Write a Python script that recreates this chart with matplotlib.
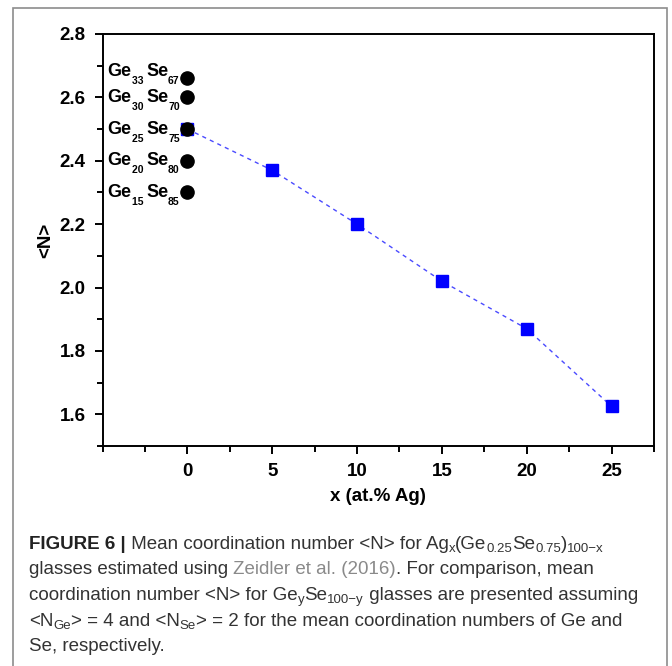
import matplotlib
matplotlib.use("Agg")
import matplotlib.pyplot as plt
from matplotlib.patches import Rectangle
from matplotlib.ticker import MultipleLocator

# Ag_x(Ge0.25Se0.75)100-x series
ag_x = [0, 5, 10, 15, 20, 25]
ag_n = [2.50, 2.37, 2.20, 2.02, 1.87, 1.625]

# GeySe100-y reference points (all at x = 0)
gese_y = [33, 30, 25, 20, 15]
gese_n = [2.66, 2.60, 2.50, 2.40, 2.30]

xticks = [0, 5, 10, 15, 20, 25]
yticks = [1.6, 1.8, 2.0, 2.2, 2.4, 2.6, 2.8]

caption_lines = [
    [("FIGURE 6 |", "b"), (" Mean coordination number <N> for Ag", "n"), ("x", "s"),
     ("(Ge", "n"), ("0.25", "s"), ("Se", "n"), ("0.75", "s"), (")", "n"), ("100\u2212x", "s")],
    [("glasses estimated using ", "n"), ("Zeidler et al. (2016)", "l"), (". For comparison, mean", "n")],
    [("coordination number <N> for Ge", "n"), ("y", "s"), ("Se", "n"), ("100\u2212y", "s"),
     (" glasses are presented assuming", "n")],
    [("<N", "n"), ("Ge", "s"), ("> = 4 and <N", "n"), ("Se", "s"),
     ("> = 2 for the mean coordination numbers of Ge and", "n")],
    [("Se, respectively.", "n")],
]

plt.rcParams["font.family"] = "Liberation Sans"

W, H = 672, 666
fig = plt.figure(figsize=(W / 100, H / 100), dpi=100)
ax = fig.add_axes([102.5 / W, 1 - 446 / H, (654 - 102.5) / W, (446 - 34) / H])
renderer = fig.canvas.get_renderer()


def draw_pieces(x_px, y_px, pieces, styles, drop, align="left"):
    # y_px is the baseline in display pixels (origin bottom-left)
    texts = []
    for txt, st in pieces:
        t = fig.text(0, 0, txt, ha="left", va="baseline", **styles[st])
        texts.append((t, st, t.get_window_extent(renderer).width))
    total = sum(w for _, _, w in texts)
    x = x_px - total if align == "right" else x_px
    for t, st, w in texts:
        yy = y_px - (drop if st == "s" else 0)
        t.set_position((x / W, yy / H))
        x += w


ax.plot(ag_x, ag_n, color="#4a4aff", lw=1.0, ls=(0, (3, 3)), zorder=2)
ax.plot(ag_x, ag_n, ls="none", marker="s", ms=8.5, color="#0000ff", zorder=3)
ax.plot([0] * len(gese_n), gese_n, ls="none", marker="o", ms=9.5, color="black", zorder=4)

ax.set_xlim(-5, 27.5)
ax.set_ylim(1.5, 2.8)
ax.xaxis.set_minor_locator(MultipleLocator(2.5))
ax.yaxis.set_minor_locator(MultipleLocator(0.1))
ax.set_xticks(xticks)
ax.set_yticks(yticks)
ax.set_yticklabels(["%.1f" % v for v in yticks])
ax.tick_params(which="both", direction="out", width=1.4, top=False, right=False,
               labelsize=13.5)
ax.tick_params(which="major", length=6, pad=6)
ax.tick_params(which="minor", length=4)
for lbl in ax.get_xticklabels() + ax.get_yticklabels():
    lbl.set_fontweight("bold")
for sp in ax.spines.values():
    sp.set_linewidth(1.4)

ax.set_xlabel("x (at.% Ag)", fontsize=13.5, fontweight="bold", labelpad=6)
ax.set_ylabel("<N>", fontsize=13.5, fontweight="bold", labelpad=4)

# Ge_ySe_100-y labels next to the black points
lab_styles = {
    "n": dict(color="black", fontsize=13, fontweight="bold"),
    "s": dict(color="black", fontsize=7.5, fontweight="bold"),
}
for y, n in zip(gese_y, gese_n):
    px, py = ax.transData.transform((-0.45, n))
    lift = 7 if n > 2.62 else 0
    pieces = [("Ge", "n"), ("%d " % y, "s"), ("Se", "n"), ("%d" % (100 - y), "s")]
    draw_pieces(px, py - 4.5 + lift, pieces, lab_styles, drop=8, align="right")

# outer frame
fig.patches.append(Rectangle((13 / W, -0.05), (667 - 13) / W, 1.05 - 8 / H,
                             transform=fig.transFigure, fill=False,
                             edgecolor="#8c8c8c", lw=1.2))

# caption
cap_styles = {
    "n": dict(color="#333333", fontsize=13.5),
    "b": dict(color="#222222", fontsize=13.5, fontweight="bold"),
    "l": dict(color="#8a8a8a", fontsize=13.5),
    "s": dict(color="#333333", fontsize=9.5),
}
baselines = [549, 574.5, 600, 625.5, 651]
for line, base in zip(caption_lines, baselines):
    draw_pieces(29, H - base, line, cap_styles, drop=3.5)

fig.savefig("out.png", dpi=100)
